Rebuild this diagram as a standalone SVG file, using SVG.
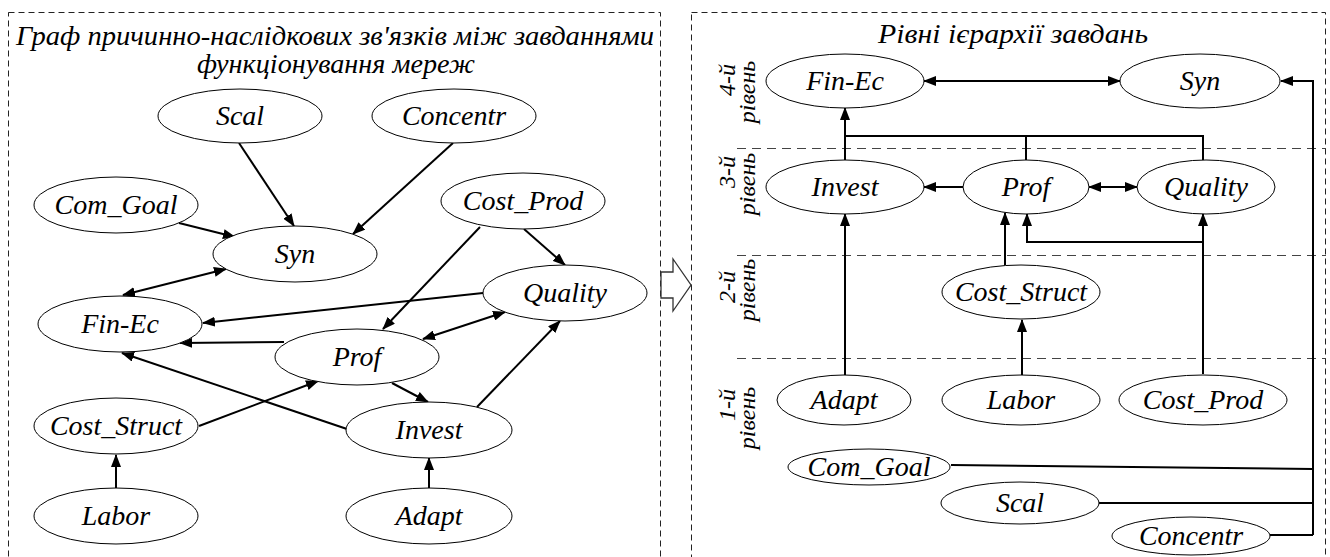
<svg xmlns="http://www.w3.org/2000/svg" width="1330" height="557" viewBox="0 0 1330 557" font-family="Liberation Serif, DejaVu Serif, serif">
<defs>
<style>
.frame{fill:none;stroke:#222;stroke-width:1;stroke-dasharray:6 4}
.sep{fill:none;stroke:#444;stroke-width:1;stroke-dasharray:9 6}
.node ellipse{fill:#fff;stroke:#000;stroke-width:1}
text{font-family:'Liberation Serif','DejaVu Serif',serif;font-style:italic;fill:#000;text-anchor:middle}
.lbl{font-size:28px}
.title{font-size:28px}
.lvl{font-size:24px}
.edge{fill:none;stroke:#000;stroke-width:2}
.a{marker-end:url(#ah)}
.d{marker-start:url(#ah);marker-end:url(#ah)}
</style>
<marker id="ah" viewBox="0 0 13 10" refX="12" refY="5" markerWidth="13" markerHeight="10" markerUnits="userSpaceOnUse" orient="auto-start-reverse">
<path d="M0,0 L13,5 L0,10 z" fill="#000"/>
</marker>
</defs>
<rect width="1330" height="557" fill="#fff"/>

<!-- frames -->
<rect class="frame" x="8.5" y="12.5" width="652" height="560"/>
<rect class="frame" x="691.5" y="12.5" width="634" height="560"/>
<polygon points="661,272 673,272 673,259 691,285 673,311 673,298 661,298" fill="#fff" stroke="#333" stroke-width="1.3"/>

<!-- titles -->
<text class="title" x="335" y="45" textLength="638" lengthAdjust="spacingAndGlyphs">Граф причинно-наслідкових зв'язків між завданнями</text>
<text class="title" x="336" y="73" textLength="278" lengthAdjust="spacingAndGlyphs">функціонування мереж</text>
<text class="title" x="1013" y="43" textLength="270" lengthAdjust="spacingAndGlyphs">Рівні ієрархії завдань</text>

<!-- level separators -->
<line class="sep" x1="737" y1="148.5" x2="1326" y2="148.5"/>
<line class="sep" x1="737" y1="255.5" x2="1326" y2="255.5"/>
<line class="sep" x1="737" y1="358.5" x2="1326" y2="358.5"/>

<!-- level labels -->
<g id="level4">
<text class="lvl" transform="translate(735,80) rotate(-90)">4-й</text>
<text class="lvl" transform="translate(755,92) rotate(-90)">рівень</text>
</g>
<g id="level3">
<text class="lvl" transform="translate(735,172) rotate(-90)">3-й</text>
<text class="lvl" transform="translate(755,184) rotate(-90)">рівень</text>
</g>
<g id="level2">
<text class="lvl" transform="translate(735,287) rotate(-90)">2-й</text>
<text class="lvl" transform="translate(755,290) rotate(-90)">рівень</text>
</g>
<g id="level1">
<text class="lvl" transform="translate(735,405) rotate(-90)">1-й</text>
<text class="lvl" transform="translate(755,418) rotate(-90)">рівень</text>
</g>

<!-- connectors -->
<g id="connectors">
<!-- left graph -->
<line class="edge a" x1="239" y1="143" x2="294" y2="226"/>
<line class="edge a" x1="453" y1="143" x2="353" y2="234"/>
<line class="edge a" x1="179" y1="223" x2="235" y2="237"/>
<line class="edge d" x1="226" y1="269" x2="123" y2="295"/>
<line class="edge a" x1="483" y1="293" x2="203" y2="323"/>
<line class="edge a" x1="480" y1="227" x2="383" y2="329"/>
<line class="edge a" x1="524" y1="229" x2="565" y2="265"/>
<line class="edge d" x1="423" y1="339" x2="505" y2="312"/>
<line class="edge a" x1="284" y1="342" x2="180" y2="343"/>
<line class="edge a" x1="347" y1="429" x2="122" y2="353"/>
<line class="edge a" x1="477" y1="407" x2="560" y2="321"/>
<line class="edge a" x1="199" y1="426" x2="318" y2="381"/>
<line class="edge a" x1="392" y1="383" x2="428" y2="402"/>
<line class="edge a" x1="116" y1="488" x2="116" y2="455"/>
<line class="edge a" x1="429" y1="488" x2="429" y2="458"/>
<!-- right hierarchy -->
<line class="edge d" x1="924" y1="81" x2="1120" y2="81"/>
<line class="edge a" x1="845" y1="160" x2="845" y2="108"/>
<polyline class="edge" points="845,136 1203,136 1203,160"/>
<line class="edge" x1="1026" y1="136" x2="1026" y2="160"/>
<line class="edge a" x1="963" y1="187" x2="924" y2="187"/>
<line class="edge d" x1="1089" y1="187" x2="1137" y2="187"/>
<line class="edge a" x1="845" y1="375" x2="845" y2="214"/>
<line class="edge a" x1="1005" y1="265" x2="1005" y2="213"/>
<line class="edge a" x1="1203" y1="374" x2="1203" y2="214"/>
<polyline class="edge a" points="1203,242 1027,242 1027,214"/>
<line class="edge a" x1="1022" y1="375" x2="1022" y2="320"/>
<polyline class="edge" points="951,465 1313,469"/>
<line class="edge" x1="1099" y1="503" x2="1313" y2="503"/>
<line class="edge" x1="1270" y1="535" x2="1313" y2="535"/>
<polyline class="edge a" points="1313,535 1313,81 1281,81"/>
</g>

<!-- left nodes -->
<g id="L-Scal" class="node"><ellipse cx="240" cy="116" rx="82" ry="27"/><text class="lbl" x="240" y="125">Scal</text></g>
<g id="L-Concentr" class="node"><ellipse cx="454" cy="116" rx="82" ry="27"/><text class="lbl" x="454" y="125">Concentr</text></g>
<g id="L-Com_Goal" class="node"><ellipse cx="116" cy="205" rx="82" ry="28"/><text class="lbl" x="116" y="214">Com_Goal</text></g>
<g id="L-Cost_Prod" class="node"><ellipse cx="523" cy="201" rx="82" ry="28"/><text class="lbl" x="523" y="210">Cost_Prod</text></g>
<g id="L-Syn" class="node"><ellipse cx="295" cy="254" rx="82" ry="28"/><text class="lbl" x="295" y="263">Syn</text></g>
<g id="L-Quality" class="node"><ellipse cx="565" cy="293" rx="82" ry="28"/><text class="lbl" x="565" y="302">Quality</text></g>
<g id="L-Fin-Ec" class="node"><ellipse cx="120" cy="324" rx="82" ry="28"/><text class="lbl" x="120" y="333">Fin-Ec</text></g>
<g id="L-Prof" class="node"><ellipse cx="357" cy="357" rx="82" ry="28"/><text class="lbl" x="357" y="366">Prof</text></g>
<g id="L-Cost_Struct" class="node"><ellipse cx="116" cy="426" rx="82" ry="28"/><text class="lbl" x="116" y="435">Cost_Struct</text></g>
<g id="L-Invest" class="node"><ellipse cx="429" cy="430" rx="83" ry="28"/><text class="lbl" x="429" y="439">Invest</text></g>
<g id="L-Labor" class="node"><ellipse cx="116" cy="516" rx="82" ry="28"/><text class="lbl" x="116" y="525">Labor</text></g>
<g id="L-Adapt" class="node"><ellipse cx="429" cy="516" rx="83" ry="28"/><text class="lbl" x="429" y="525">Adapt</text></g>

<!-- right nodes -->
<g id="R-Fin-Ec" class="node"><ellipse cx="845" cy="81" rx="79" ry="27"/><text class="lbl" x="845" y="90">Fin-Ec</text></g>
<g id="R-Syn" class="node"><ellipse cx="1200" cy="81" rx="80" ry="27"/><text class="lbl" x="1200" y="90">Syn</text></g>
<g id="R-Invest" class="node"><ellipse cx="845" cy="187" rx="79" ry="27"/><text class="lbl" x="845" y="196">Invest</text></g>
<g id="R-Prof" class="node"><ellipse cx="1026" cy="187" rx="63" ry="27"/><text class="lbl" x="1026" y="196">Prof</text></g>
<g id="R-Quality" class="node"><ellipse cx="1206" cy="187" rx="69" ry="27"/><text class="lbl" x="1206" y="196">Quality</text></g>
<g id="R-Cost_Struct" class="node"><ellipse cx="1021" cy="292" rx="79" ry="27"/><text class="lbl" x="1021" y="301">Cost_Struct</text></g>
<g id="R-Adapt" class="node"><ellipse cx="844" cy="400" rx="67" ry="25"/><text class="lbl" x="844" y="409">Adapt</text></g>
<g id="R-Labor" class="node"><ellipse cx="1021" cy="400" rx="79" ry="25"/><text class="lbl" x="1021" y="409">Labor</text></g>
<g id="R-Cost_Prod" class="node"><ellipse cx="1203" cy="400" rx="84" ry="25"/><text class="lbl" x="1203" y="409">Cost_Prod</text></g>
<g id="R-Com_Goal" class="node"><ellipse cx="869" cy="467" rx="81" ry="18"/><text class="lbl" x="869" y="476">Com_Goal</text></g>
<g id="R-Scal" class="node"><ellipse cx="1020" cy="503" rx="79" ry="21"/><text class="lbl" x="1020" y="512">Scal</text></g>
<g id="R-Concentr" class="node"><ellipse cx="1191" cy="536" rx="79" ry="19"/><text class="lbl" x="1191" y="545">Concentr</text></g>
</svg>
